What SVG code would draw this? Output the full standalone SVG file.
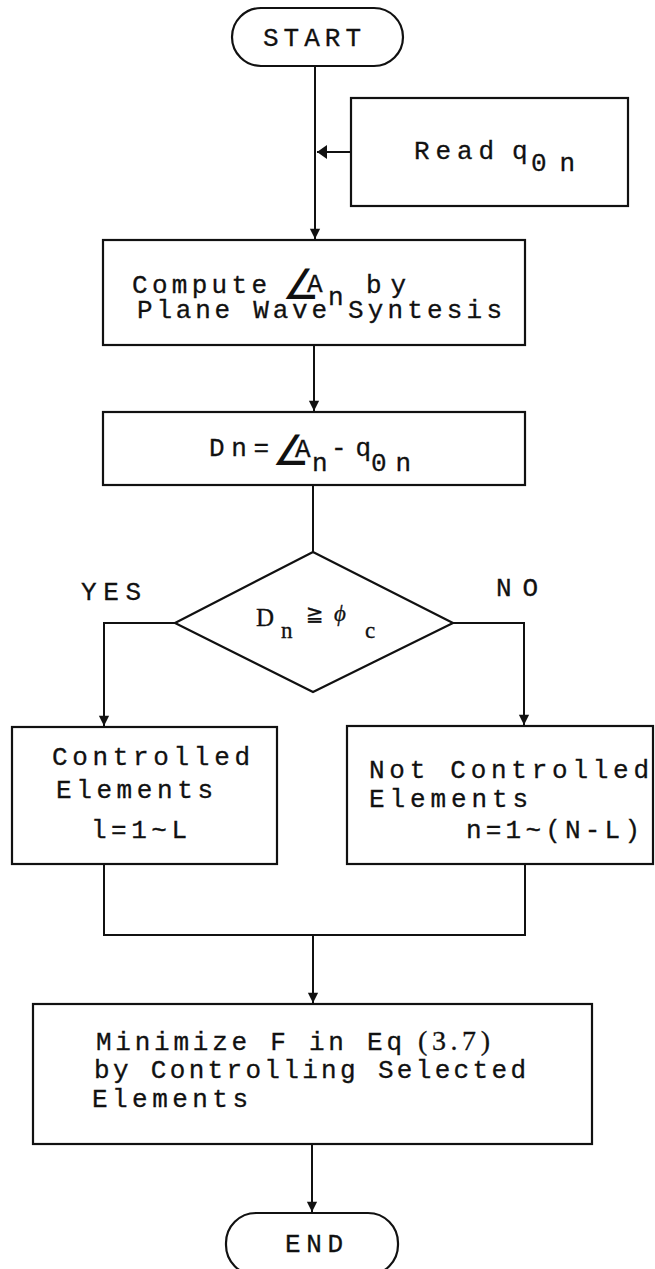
<svg xmlns="http://www.w3.org/2000/svg" width="655" height="1269" viewBox="0 0 655 1269">
<style>
.n{fill:#fff;stroke:#111;stroke-width:2.2}
.c{fill:none;stroke:#111;stroke-width:2}
text{font-family:"Liberation Mono","Courier New",monospace;font-size:26px;fill:#111;stroke:#111;stroke-width:0.3}
.sym{font-family:"DejaVu Sans",sans-serif}
.ang{font-family:"DejaVu Sans ExtraLight","DejaVu Sans",sans-serif;font-size:42px;font-weight:200;stroke:none}
.ser{font-family:"Liberation Serif","Times New Roman",serif}
</style>
<defs>
<marker id="ah" viewBox="0 0 10 14" refX="10" refY="7" markerWidth="10" markerHeight="14" markerUnits="userSpaceOnUse" orient="auto">
<path d="M0,0 L10,7 L0,14 z" fill="#111"/>
</marker>
<marker id="av" viewBox="0 0 14 12" refX="7" refY="12" markerWidth="12" markerHeight="14" markerUnits="userSpaceOnUse" orient="0">
<path d="M1,0 L13,0 L7,12 z" fill="#111"/>
</marker>
</defs>
<g id="connectors">
<path class="c" d="M315,66 V239" marker-end="url(#av)"/>
<path class="c" d="M351,152 H317" marker-end="url(#ah)"/>
<path class="c" d="M314,345 V411" marker-end="url(#av)"/>
<path class="c" d="M313,485 V552"/>
<path class="c" d="M175,623 H104 V726" marker-end="url(#av)"/>
<path class="c" d="M453,623 H524 V725" marker-end="url(#av)"/>
<path class="c" d="M104,864 V935 H525 V864"/>
<path class="c" d="M313,935 V1003" marker-end="url(#av)"/>
<path class="c" d="M312,1144 V1212" marker-end="url(#av)"/>
</g>
<g id="start">
<rect class="n" x="232" y="8" width="171" height="58" rx="29"/>
<text x="263" y="46" textLength="98" lengthAdjust="spacing">START</text>
</g>
<g id="read">
<rect class="n" x="351" y="98" width="277" height="108"/>
<text x="414" y="159" textLength="80" lengthAdjust="spacing">Read</text>
<text x="512" y="159">q</text>
<text x="531" y="171" textLength="44" lengthAdjust="spacing">0n</text>
</g>
<g id="compute">
<rect class="n" x="103" y="240" width="422" height="105"/>
<text x="132" y="293" textLength="135" lengthAdjust="spacing">Compute</text>
<text class="ang" x="282" y="299">∠</text>
<text x="307" y="292">A</text>
<text x="328" y="305">n</text>
<text x="366" y="293" textLength="40" lengthAdjust="spacing">by</text>
<text x="137" y="318" textLength="190" lengthAdjust="spacing">Plane Wave</text>
<text x="348" y="318" textLength="154" lengthAdjust="spacing">Syntesis</text>
</g>
<g id="dn">
<rect class="n" x="103" y="412" width="422" height="73"/>
<text x="209" y="456" textLength="60" lengthAdjust="spacing">Dn=</text>
<text class="ang" x="272" y="465">∠</text>
<text x="295" y="457">A</text>
<text x="312" y="471">n</text>
<text x="331" y="456" textLength="40" lengthAdjust="spacing">-q</text>
<text x="371" y="471" textLength="40" lengthAdjust="spacing">0n</text>
</g>
<g id="decision">
<polygon class="n" points="313,552 453,623 313,692 175,623"/>
<text class="ser" x="256" y="626" style="font-size:25px">D</text>
<text class="ser" x="281" y="638" style="font-size:23px">n</text>
<text class="sym" x="306" y="621" style="font-size:21px">≧</text>
<text class="ser" x="334" y="621" style="font-size:23px;font-style:italic">ϕ</text>
<text class="ser" x="365" y="638" style="font-size:23px">c</text>
</g>
<g id="labels">
<text x="81" y="600" textLength="60" lengthAdjust="spacing">YES</text>
<text x="496" y="596" textLength="42" lengthAdjust="spacing">NO</text>
</g>
<g id="controlled">
<rect class="n" x="12" y="727" width="265" height="137"/>
<text x="52" y="765" textLength="198" lengthAdjust="spacing">Controlled</text>
<text x="56" y="798" textLength="157" lengthAdjust="spacing">Elements</text>
<text x="91" y="838" textLength="96" lengthAdjust="spacing">l=1~L</text>
</g>
<g id="notcontrolled">
<rect class="n" x="347" y="726" width="306" height="138"/>
<text x="369" y="778" textLength="280" lengthAdjust="spacing">Not Controlled</text>
<text x="369" y="807" textLength="159" lengthAdjust="spacing">Elements</text>
<text x="466" y="838" textLength="174" lengthAdjust="spacing">n=1~(N-L)</text>
</g>
<g id="minimize">
<rect class="n" x="33" y="1004" width="559" height="140"/>
<text x="96" y="1050" textLength="306" lengthAdjust="spacing">Minimize F in Eq</text>
<text class="ser" x="418" y="1050" style="font-size:28px" textLength="72" lengthAdjust="spacing">(3.7)</text>
<text x="94" y="1078" textLength="432" lengthAdjust="spacing">by Controlling Selected</text>
<text x="92" y="1107" textLength="156" lengthAdjust="spacing">Elements</text>
</g>
<g id="end">
<rect class="n" x="226" y="1213" width="172" height="62" rx="30"/>
<text x="285" y="1252" textLength="58" lengthAdjust="spacing">END</text>
</g>
</svg>
